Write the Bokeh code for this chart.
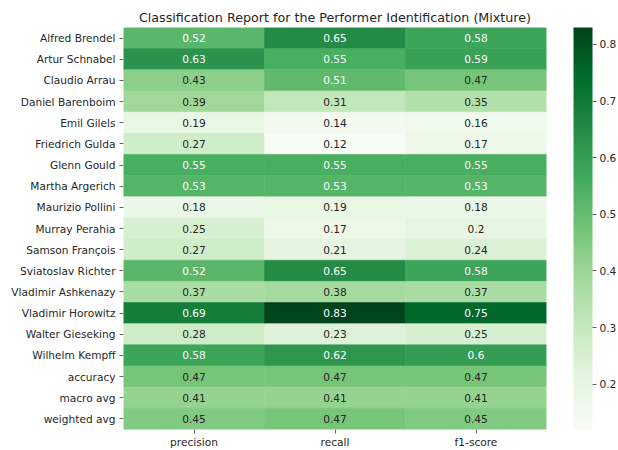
import numpy as np
from bokeh.plotting import figure
from bokeh.models import ColumnDataSource, LinearColorMapper, ColorBar, FixedTicker, FactorRange
from bokeh.embed import file_html
from bokeh.resources import INLINE
from bokeh.core.properties import value

rows = ["Alfred Brendel", "Artur Schnabel", "Claudio Arrau", "Daniel Barenboim",
        "Emil Gilels", "Friedrich Gulda", "Glenn Gould", "Martha Argerich",
        "Maurizio Pollini", "Murray Perahia", "Samson François", "Sviatoslav Richter",
        "Vladimir Ashkenazy", "Vladimir Horowitz", "Walter Gieseking", "Wilhelm Kempff",
        "accuracy", "macro avg", "weighted avg"]
metrics = ["precision", "recall", "f1-score"]
precision = [0.52, 0.63, 0.43, 0.39, 0.19, 0.27, 0.55, 0.53, 0.18, 0.25, 0.27, 0.52,
             0.37, 0.69, 0.28, 0.58, 0.47, 0.41, 0.45]
recall = [0.65, 0.55, 0.51, 0.31, 0.14, 0.12, 0.55, 0.53, 0.19, 0.17, 0.21, 0.65,
          0.38, 0.83, 0.23, 0.62, 0.47, 0.41, 0.47]
f1_score = [0.58, 0.59, 0.47, 0.35, 0.16, 0.17, 0.55, 0.53, 0.18, 0.20, 0.24, 0.58,
            0.37, 0.75, 0.25, 0.60, 0.47, 0.41, 0.45]
cbar_ticks = [0.2, 0.3, 0.4, 0.5, 0.6, 0.7, 0.8]

# matplotlib "Greens" colormap (ColorBrewer 9 stops, linearly interpolated)
greens9 = ["#f7fcf5", "#e5f5e0", "#c7e9c0", "#a1d99b", "#74c476",
           "#41ab5d", "#238b45", "#006d2c", "#00441b"]
stops = np.array([[int(h[i:i + 2], 16) for i in (1, 3, 5)] for h in greens9]) / 255.0
sx = np.linspace(0, 1, len(greens9))
xs = np.linspace(0, 1, 256)
rgb = np.stack([np.interp(xs, sx, stops[:, k]) for k in range(3)], axis=1)
palette = ["#%02x%02x%02x" % tuple(int(round(c * 255)) for c in row) for row in rgb]

series = {"precision": precision, "recall": recall, "f1-score": f1_score}
allv = precision + recall + f1_score
vmin, vmax = min(allv), max(allv)


def lum(c):
    c = np.where(c <= 0.03928, c / 12.92, ((c + 0.055) / 1.055) ** 2.4)
    return 0.2126 * c[0] + 0.7152 * c[1] + 0.0722 * c[2]


xcol, ycol, vals, labels, tcols = [], [], [], [], []
for m in metrics:
    for r, v in zip(rows, series[m]):
        xcol.append(m)
        ycol.append(r)
        vals.append(v)
        labels.append("{:.2g}".format(v))
        idx = int(min(255, max(0, (v - vmin) / (vmax - vmin) * 256)))
        tcols.append("#262626" if lum(rgb[idx]) > 0.408 else "#ffffff")

src = ColumnDataSource(dict(x=xcol, y=ycol, v=vals, label=labels, tc=tcols))
mapper = LinearColorMapper(palette=palette, low=vmin, high=vmax)

FS = "10.6px"

p = figure(frame_width=423, frame_height=402, output_backend="svg", toolbar_location=None,
           x_range=FactorRange(*metrics), y_range=FactorRange(*rows[::-1]),
           min_border_left=123, min_border_top=27, min_border_bottom=21, min_border_right=72)
p.title.text = "Classification Report for the Performer Identification (Mixture)"
p.title.align = "center"
p.title.text_font = "DejaVu Sans"
p.title.text_font_size = "12.7px"
p.title.text_font_style = "normal"
p.title.text_color = "#262626"
p.title.standoff = 5

p.rect(x="x", y="y", width=1, height=1, source=src,
       fill_color={"field": "v", "transform": mapper},
       line_color={"field": "v", "transform": mapper}, line_width=0.6)
p.text(x="x", y="y", text="label", source=src, text_color="tc",
       text_align="center", text_baseline="middle",
       text_font=value("DejaVu Sans"), text_font_size=FS)

for ax in (p.xaxis[0], p.yaxis[0]):
    ax.axis_line_color = None
    ax.major_tick_in = 0
    ax.major_tick_out = 4
    ax.major_tick_line_color = "#666666"
    ax.minor_tick_line_color = None
    ax.major_label_text_font = "DejaVu Sans"
    ax.major_label_text_font_size = FS
    ax.major_label_text_color = "#262626"
    ax.major_label_standoff = 4
p.xaxis.major_label_standoff = 2
p.grid.visible = False
p.outline_line_color = None
p.x_range.range_padding = 0
p.y_range.range_padding = 0

cb = ColorBar(color_mapper=mapper, ticker=FixedTicker(ticks=cbar_ticks),
              width=19, height=402, location=(27, 0), padding=0, margin=0,
              bar_line_color=None,
              major_tick_in=0, major_tick_out=4, major_tick_line_color="#666666",
              minor_tick_line_color=None, label_standoff=3,
              major_label_text_font="DejaVu Sans", major_label_text_font_size=FS,
              major_label_text_color="#262626", background_fill_color=None)
p.add_layout(cb, "right")

open("out.html", "w").write(file_html(p, INLINE))
